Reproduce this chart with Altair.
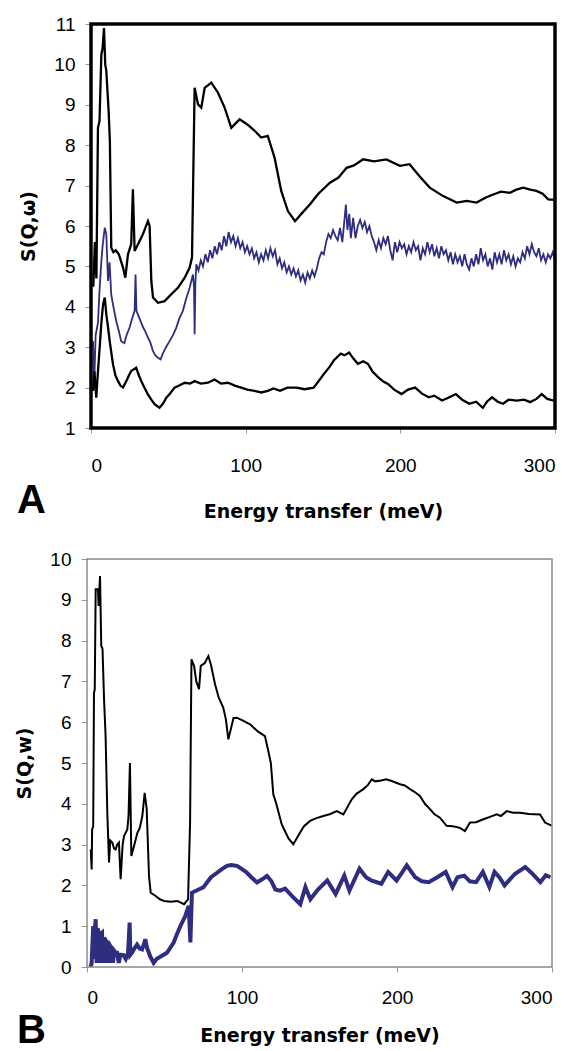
import altair as alt
import pandas as pd

# ---------------- data ----------------
A_top = [(1.5,4.5),(2.5,5.6),(3.5,4.7),(4.5,8.43),(5.5,8.6),(6.7,10.25),(7.5,10.4),(8.4,10.9),(9.2,10.0),(9.9,9.84),
         (11.4,8.85),(12.2,8.1),(13.1,5.46),(14.5,5.35),(16,5.4),(18,5.3),(20.7,4.97),(22.2,4.72),(23.9,5.3),(26,5.55),
         (27.1,6.91),(28.2,5.38),(30.4,5.55),(33.6,5.8),(36.8,6.12),(37.9,6.0),(39,4.64),(40.1,4.23),(43.3,4.1),(47.6,4.14),
         (51.9,4.31),(56.2,4.47),(60.6,4.72),(63.8,4.97),(65.3,5.22),(67.0,9.42),(69.2,9.01),(71.3,8.93),(73.5,9.42),(77.8,9.55),
         (82.1,9.3),(86.4,8.93),(90.7,8.43),(96.1,8.64),(101.5,8.5),(106,8.35),(110,8.19),(114.3,8.23),(118.7,7.69),(123,6.87),
         (127.3,6.37),(131.9,6.12),(136,6.3),(141.6,6.54),(147,6.8),(154.5,7.07),(160,7.2),(165.3,7.44),(170,7.5),(176,7.65),
         (183,7.6),(191,7.65),(199.7,7.49),(206,7.53),(212,7.25),(219,6.95),(227.7,6.74),(236.4,6.58),(243,6.62),(249.3,6.58),
         (255,6.7),(260,6.78),(265,6.85),(270.8,6.82),(275,6.9),(279.5,6.95),(284,6.9),(288,6.87),(292,6.8),(295.6,6.66),(300,6.65)]

A_mid = [(1.3,3.15),(2.0,2.0),(3.0,3.3),(4.5,3.6),(5.5,4.4),(6.7,5.13),(7.5,5.5),(8.9,5.96),(9.9,5.8),(11,4.64),(12,5.1),
         (13.1,4.3),(14.5,4.0),(16.3,3.65),(18,3.4),(19.5,3.15),(21.6,3.1),(23,3.3),(24.9,3.48),(26.5,3.7),(28.2,3.9),(28.8,4.8),
         (29.4,3.9),(30.4,3.8),(32,3.65),(33.6,3.5),(35,3.4),(36.8,3.24),(38.5,3.1),(40.1,2.9),(41.5,2.8),(43.3,2.74),(45,2.7),
         (46.5,2.85),(48.5,3.0),(50.8,3.15),(53,3.3),(55.1,3.48),(57,3.7),(59.4,3.9),(61.5,4.2),(63.8,4.47),(65.9,4.8),(66.6,4.5),
         (67.0,3.32),(67.5,4.6),(68.1,5.05),(69.5,4.9),(71,5.15),(72.4,5.0),(74,5.3),(75.5,5.1),(77,5.4),(78.5,5.2),(80,5.5),
         (81.5,5.3),(83,5.6),(84.5,5.4),(86,5.75),(87.5,5.5),(89,5.85),(90.5,5.6),(92,5.75),(93.5,5.5),(95,5.7),(96.5,5.45),
         (98,5.6),(99.5,5.35),(101,5.5),(102.5,5.3),(104,5.45),(105.5,5.2),(107,5.35),(108.5,5.1),(110,5.3),(111.5,5.15),
         (113,5.4),(114.5,5.2),(116,5.45),(117.5,5.25),(119,5.4),(120.5,5.05),(122,5.2),(123.5,4.95),(125,5.1),(126.5,4.85),
         (128,5.0),(129.5,4.8),(131,4.95),(132.5,4.75),(134,4.9),(135.5,4.65),(137,4.8),(138.5,4.6),(140,4.85),(141.5,4.7),
         (143,4.9),(144.5,4.75),(146,4.95),(147.5,5.2),(149,5.35),(150.5,5.3),(152,5.6),(153.5,5.8),(155,5.7),(156.5,5.9),
         (158,5.75),(159.5,5.65),(161,5.95),(162.5,5.6),(164,6.2),(164.8,6.53),(165.8,5.9),(167,6.3),(168,5.7),(169.5,6.2),
         (171,5.7),(172.5,6.0),(174,6.15),(175.5,5.95),(177,6.1),(178.5,5.85),(180,6.0),(181.5,5.75),(183,5.6),(184.5,5.4),
         (186,5.65),(187.5,5.45),(189,5.7),(190.5,5.55),(192,5.75),(193.5,5.4),(195,5.15),(196.5,5.6),(198,5.35),(199.5,5.6),
         (201,5.45),(202.5,5.55),(204,5.3),(205.5,5.5),(207,5.35),(208.5,5.6),(210,5.4),(211.5,5.5),(213,5.15),(214.5,5.45),
         (216,5.3),(217.5,5.6),(219,5.35),(220.5,5.55),(222,5.25),(223.5,5.45),(225,5.2),(226.5,5.5),(228,5.3),(229.5,5.4),
         (231,5.15),(232.5,5.35),(234,5.05),(235.5,5.3),(237,5.1),(238.5,5.25),(240,5.0),(241.5,5.3),(243,5.05),(244.5,4.92),
         (246,5.2),(247.5,5.0),(249,5.3),(250.5,5.05),(252,5.45),(253.5,5.15),(255,5.3),(256.5,5.0),(258,5.2),(259.5,4.92),
         (261,5.35),(262.5,5.1),(264,5.3),(265.5,5.05),(267,5.4),(268.5,5.15),(270,5.3),(271.5,5.05),(273,5.25),(274.5,5.0),
         (276,5.2),(277.5,5.1),(279,5.35),(280.5,5.2),(282,5.5),(283.5,5.3),(285,5.55),(286.5,5.35),(288,5.25),(289.5,5.45),
         (291,5.15),(292.5,5.3),(294,5.1),(295.5,5.3),(297,5.2),(298.5,5.35),(300,5.15)]

A_low = [(1.3,1.92),(2.2,2.4),(3.4,1.75),(4.5,2.4),(5.6,2.99),(6.7,3.6),(7.8,4.06),(8.9,4.23),(9.9,3.81),(11,3.5),(12.1,3.15),
         (14.2,2.58),(15.8,2.3),(17.5,2.16),(19,2.05),(20.7,2.0),(22.8,2.16),(24.5,2.3),(26,2.41),(27.5,2.45),(29.2,2.49),(31,2.3),
         (32.5,2.16),(34.5,2.0),(36.8,1.83),(39,1.7),(41.1,1.59),(42.5,1.55),(44.3,1.5),(46.5,1.6),(48.7,1.75),(51,1.85),(54,2.0),
         (57,2.05),(60.6,2.12),(64,2.1),(67,2.16),(71,2.1),(75.6,2.12),(79.9,2.2),(84,2.1),(88.5,2.12),(93,2.05),(97.1,2.0),
         (101,1.95),(105.7,1.92),(110,1.88),(114.3,1.92),(118,1.98),(122.2,1.92),(127,2.0),(133,2.0),(138,1.96),(143.9,2.0),
         (147,2.15),(150.6,2.34),(154,2.5),(157.1,2.68),(161.5,2.84),(164,2.8),(166.9,2.87),(169,2.75),(172.5,2.59),(176,2.65),
         (179,2.59),(182,2.4),(185.6,2.26),(189,2.15),(192,2.09),(196,1.95),(200.8,1.84),(205,1.95),(209.6,2.0),(214,1.85),
         (218.4,1.76),(222,1.8),(227,1.68),(231,1.75),(235.9,1.84),(240,1.7),(244.6,1.6),(249,1.65),(253.3,1.5),(256,1.65),
         (259.3,1.76),(263,1.65),(266.4,1.6),(270,1.7),(275.3,1.68),(280,1.7),(284,1.64),(288,1.72),(291.4,1.84),(295,1.72),
         (299.2,1.68)]

B_top = [(2.4,2.88),(3.0,2.39),(3.3,3.37),(4.0,3.45),(4.5,6.72),(5.0,6.8),(5.6,9.26),(7.1,9.26),(7.5,8.85),(8.4,9.58),
         (9.2,7.87),(10,7.8),(11,6.56),(12,5.66),(13.1,3.78),(14.2,2.56),(15,3.1),(16.3,3.05),(17.5,2.9),(18.4,2.88),(19.5,3.0),
         (20.6,3.05),(21.7,2.15),(23,3.0),(23.9,3.21),(26,3.37),(26.8,3.7),(27.7,5.0),(28.6,2.72),(30.3,2.96),(32.5,3.29),
         (34,3.4),(35.7,3.7),(37.2,4.27),(38.5,3.88),(40,2.23),(41.1,1.82),(44.3,1.74),(47,1.66),(49.7,1.62),(54,1.6),
         (58.3,1.62),(62.6,1.54),(65.2,1.66),(66.5,3.54),(67.4,7.54),(69.1,7.38),(70.5,7.0),(72.3,6.81),(73.4,7.38),(76,7.45),
         (78.3,7.62),(80,7.4),(82.6,6.93),(85,6.6),(87.9,6.36),(89.6,6.07),(91.2,5.58),(92.8,5.83),(94.5,6.1),(96.6,6.11),
         (100,6.05),(105.2,5.95),(110,5.78),(114.8,5.66),(117,5.29),(118.6,5.0),(120.2,4.23),(121.9,4.03),(125.6,3.5),
         (127.2,3.37),(130,3.15),(133.1,3.01),(137.4,3.29),(140,3.45),(143.9,3.58),(148,3.65),(152.5,3.7),(157,3.75),
         (161.1,3.82),(165.4,3.74),(170.8,4.11),(174,4.25),(178.3,4.36),(181,4.45),(183.7,4.6),(186,4.55),(189.8,4.57),
         (193,4.6),(196.6,4.56),(202,4.48),(205,4.45),(208.4,4.36),(211,4.3),(214.8,4.19),(218,4.0),(221.3,3.87),(224,3.75),
         (227.7,3.66),(232,3.46),(236,3.45),(240.6,3.41),(243.8,3.33),(247.1,3.54),(251,3.55),(255.7,3.62),(260,3.68),
         (264.3,3.74),(267,3.7),(270.8,3.82),(275,3.78),(279.4,3.78),(285,3.75),(292.3,3.74),(295.5,3.54),(300,3.46)]

B_low = [(2.4,0.0),(3.0,0.1),(4.0,1.0),(4.5,0.2),(5.0,0.9),(5.6,1.17),(6.2,0.1),(6.8,0.95),(7.5,0.84),(8.0,0.1),(8.6,0.8),
         (9.7,0.84),(10.3,0.1),(11,0.7),(11.8,0.68),(12.4,0.1),(13,0.6),(14,0.55),(14.6,0.1),(15.1,0.51),(16,0.45),(16.8,0.1),
         (17.5,0.4),(18.5,0.35),(19.4,0.35),(20.5,0.1),(21.5,0.3),(23.6,0.29),(25,0.2),(26.5,0.35),(27.5,1.09),(28,0.3),
         (29,0.35),(30.5,0.45),(32.3,0.55),(34,0.45),(35.5,0.43),(37,0.6),(37.6,0.68),(38.7,0.47),(40.9,0.25),(43,0.1),(45,0.2),
         (47.3,0.25),(51.6,0.35),(55.9,0.6),(58,0.8),(60.2,1.0),(63.4,1.25),(65.6,1.5),(66.7,0.6),(67.7,1.82),(72,1.9),
         (75,1.95),(77.4,2.07),(80,2.2),(83.9,2.31),(87,2.4),(90.3,2.48),(93,2.5),(96.8,2.48),(100,2.4),(103.2,2.31),(106,2.2),
         (109.7,2.07),(113,2.15),(116.1,2.23),(119,2.1),(121.5,1.9),(124.5,1.87),(127.8,1.92),(132,1.75),(137.6,1.54),
         (140.9,1.96),(144.1,1.66),(149,1.9),(155,2.12),(160.4,1.79),(166,2.24),(169.3,1.87),(175.8,2.41),(180,2.2),
         (183.4,2.12),(189.9,2.04),(194.3,2.33),(199.7,2.12),(203,2.3),(206.3,2.49),(211.7,2.2),(216,2.1),(220.5,2.08),
         (226,2.2),(231.4,2.33),(235.8,1.96),(239,2.2),(243.4,2.24),(247,2.1),(251,2.08),(255.4,2.33),(259.6,1.96),
         (262.9,2.33),(266,2.2),(269.4,2.0),(276,2.28),(282.7,2.45),(287,2.3),(292.5,2.08),(296,2.25),(299,2.2)]

x_ticks = [0, 100, 200, 300]
A_y_ticks = list(range(1, 12))
B_y_ticks = list(range(0, 11))
x_title = "Energy transfer (meV)"
A_y_title = "S(Q,\u03c9)"
B_y_title = "S(Q,w)"

BLUE = "#2e2d80"
FONT = "Liberation Sans"
TFONT = "DejaVu Sans"


def frame(pairs):
    return pd.DataFrame({"i": range(len(pairs)),
                         "x": [p[0] for p in pairs],
                         "y": [p[1] for p in pairs]})


def panel(series, ydom, yticks, ytitle, letter, w, h, shift, border, bw,
          xlabpad, xtitpad, letter_off):
    xenc = alt.X("x:Q", scale=alt.Scale(domain=[0, 300], nice=False, range=[shift, w]),
                 axis=alt.Axis(values=x_ticks, title=x_title, domain=False, grid=False,
                               tickColor="#999999", tickSize=5, labelPadding=xlabpad,
                               labelFontSize=19, labelFont=FONT, labelColor="black",
                               titleFont=TFONT, titleFontSize=19, titleFontWeight="bold",
                               titleColor="black", titlePadding=xtitpad,
                               titleX=shift + (w - shift) / 2))
    yaxis_kw = dict(values=yticks, title=ytitle, domain=False, grid=False,
                    tickColor="#999999", tickSize=6, labelPadding=10,
                    labelFontSize=19, labelFont=FONT, labelColor="black",
                    titleFont=TFONT, titleFontSize=19, titleFontWeight="bold",
                    titleColor="black", titlePadding=15)
    if shift:
        yaxis_kw["offset"] = -shift
    yenc = alt.Y("y:Q", scale=alt.Scale(domain=ydom, nice=False), axis=alt.Axis(**yaxis_kw))
    layers = []
    for pairs, color, sw in series:
        layers.append(alt.Chart(frame(pairs)).mark_line(color=color, strokeWidth=sw, clip=True)
                      .encode(x=xenc, y=yenc, order="i:Q"))
    frame_rect = alt.Chart(pd.DataFrame({"k": [0]})).mark_rect(
        filled=False, stroke=border, strokeWidth=bw
    ).encode(x=alt.value(shift), x2=alt.value(w), y=alt.value(0), y2=alt.value(h))
    layers.append(frame_rect)
    lab = alt.Chart(pd.DataFrame({"t": [letter]})).mark_text(
        font=FONT, fontSize=40, fontWeight="bold", align="left", baseline="alphabetic", color="black"
    ).encode(text="t:N", x=alt.value(-70), y=alt.value(h + letter_off))
    layers.append(lab)
    return alt.layer(*layers).properties(width=w, height=h,
                                         view=alt.ViewBackground(stroke="transparent"))


chartA = panel([(A_top, "black", 2.3), (A_mid, BLUE, 1.8), (A_low, "black", 2.3)],
               [1, 11], A_y_ticks, A_y_title, "A", 468, 404, 4, "black", 3.5,
               23, 27, 85)
chartB = panel([(B_top, "black", 2.0), (B_low, BLUE, 4.0)],
               [0, 10], B_y_ticks, B_y_title, "B", 465, 408, 0, "#8a8a8a", 1.5,
               16, 19, 76)

chart = alt.vconcat(chartA, chartB, spacing=131, bounds="flush").properties(
    padding={"left": 15, "top": 14, "right": 5, "bottom": 0}
).configure(background="white")

chart.save("out.html", embed_options={"renderer": "svg", "actions": False})
